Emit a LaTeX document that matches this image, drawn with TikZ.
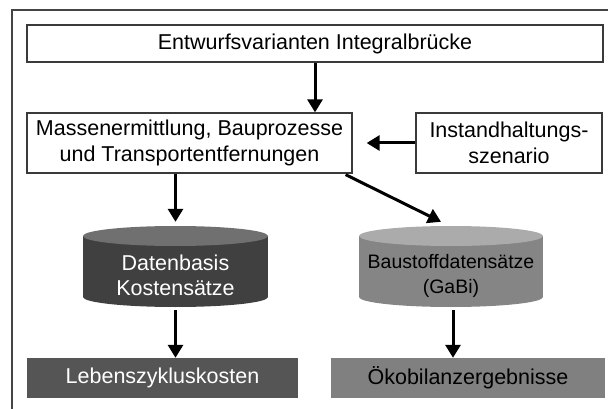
\documentclass[tikz,border=0pt]{standalone}
\usepackage{fontspec}
\setmainfont{Liberation Sans}
\usetikzlibrary{arrows.meta,calc}
\definecolor{frameC}{HTML}{444444}
\definecolor{boxC}{HTML}{3A3A3A}
\definecolor{dbAtop}{HTML}{707070}
\definecolor{dbAbody}{HTML}{404040}
\definecolor{dbBtop}{HTML}{ABABAB}
\definecolor{dbBbody}{HTML}{858585}
\definecolor{lebC}{HTML}{555555}
\definecolor{oekoC}{HTML}{808080}
\tikzset{
  wbox/.style={draw=boxC,line width=1.3pt,fill=white,inner sep=0pt,align=center,
    font=\fontsize{21.5}{25.5}\selectfont},
  fbox/.style={draw=none,inner sep=0pt,align=center,
    font=\fontsize{21.5}{25.5}\selectfont},
  arr/.style={line width=3pt,-{Triangle[width=15pt,length=13pt]}},
  dbbox/.style={inner sep=0pt,minimum width=185pt,minimum height=81pt}
}
\begin{document}
\begin{tikzpicture}[x=1pt,y=-1pt]
\useasboundingbox (0,0) rectangle (608,409);
% outer frame
\draw[frameC,line width=1.2pt] (608,10) -- (12,10) -- (12,409);
% boxes
\node[wbox,minimum width=576pt,minimum height=37pt] (top) at (315,43.5) {Entwurfsvarianten Integralbrücke};
\node[wbox,minimum width=325pt,minimum height=60pt] (mass) at (189.5,143) {Massenermittlung, Bauprozesse\\und Transportentfernungen};
\node[wbox,minimum width=186pt,minimum height=60pt] (inst) at (509,143) {Instandhaltungs-\\szenario};
% cylinder 1
\fill[dbAbody] (83,236) rectangle (268,297);
\fill[dbAbody] (175.5,297) ellipse [x radius=92.5pt,y radius=10pt];
\fill[dbAtop] (175.5,236) ellipse [x radius=92.5pt,y radius=10pt];
\node[dbbox] (db1) at (175.5,266.5) {};
\node[fbox,text=white] (db1t) at (175.5,275.5) {Datenbasis\\Kostensätze};
% cylinder 2
\fill[dbBbody] (359,236) rectangle (543,297);
\fill[dbBbody] (451,297) ellipse [x radius=92pt,y radius=10pt];
\fill[dbBtop] (451,236) ellipse [x radius=92pt,y radius=10pt];
\node[dbbox,minimum width=184pt] (db2) at (451,266.5) {};
\node[fbox,text=black,font=\fontsize{19.5}{25}\selectfont] (db2t) at (451,275.5) {Baustoffdatensätze\\(GaBi)};
% result boxes
\node[fbox,fill=lebC,text=white,minimum width=271pt,minimum height=40pt] (leb) at (162.5,378) {Lebenszykluskosten};
\node[fbox,fill=oekoC,text=black,minimum width=274pt,minimum height=40pt] (oeko) at (468,378) {Ökobilanzergebnisse};
% arrows
\draw[arr] (top.south) -- (top.south |- mass.north);
\draw[arr] (inst.west) -- ($(mass.east)+(14,0)$);
\draw[arr] (db1.north |- mass.south) -- ($(db1.north)+(0,-4)$);
\coordinate (dstart) at ($(mass.south east)+(-7,1)$);
\coordinate (dend) at ($(db2.north)+(-10,-4)$);
\draw[arr] (dstart) -- (dend);
\draw[arr] ($(db1.south)+(0,3)$) -- (db1.south |- leb.north);
\draw[arr] ($(db2.south)+(2,3)$) -- ($(db2.south |- oeko.north)+(2,0)$);
\end{tikzpicture}
\end{document}
